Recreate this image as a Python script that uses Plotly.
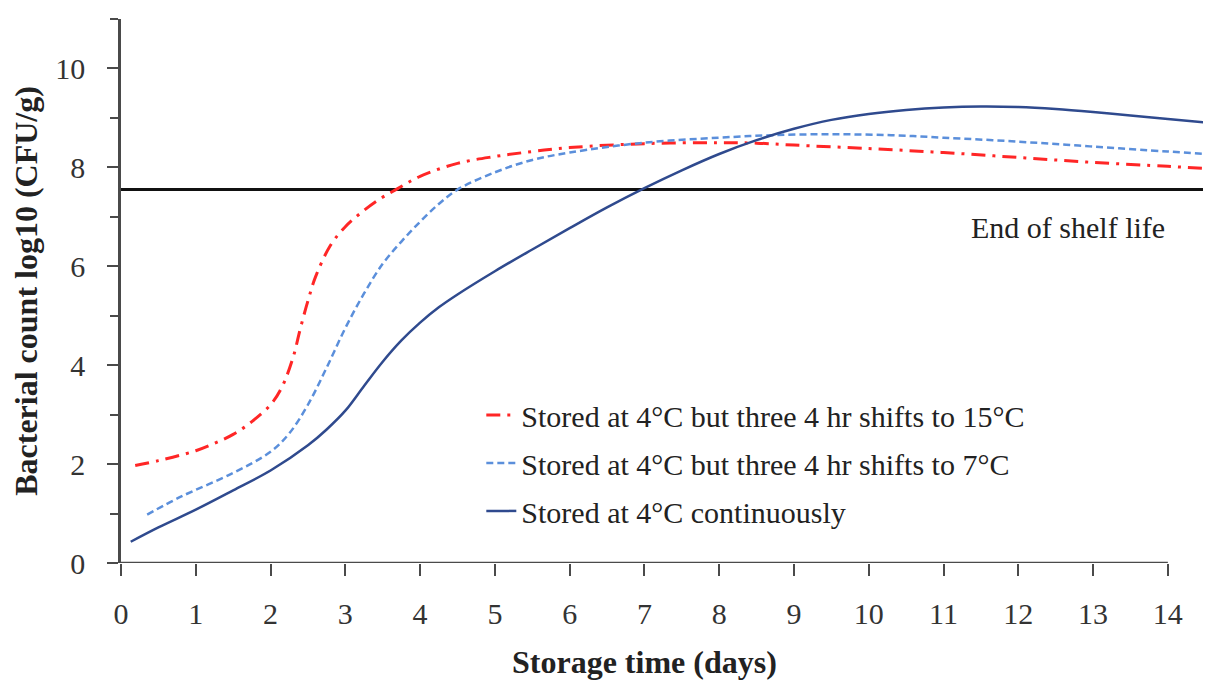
import plotly.graph_objects as go

# ---- data ----
red_x = [0.19, 0.5, 1.0, 1.25, 1.5, 1.75, 2.0, 2.15, 2.3, 2.4, 2.5, 2.6, 2.8, 3.0, 3.2, 3.45, 3.7, 4.0, 4.5, 5.0, 5.5, 6.0, 7.0, 8.0, 8.5, 9.0, 10.0, 11.0, 12.0, 13.0, 14.0, 14.5]
red_y = [1.97, 2.07, 2.27, 2.42, 2.6, 2.86, 3.2, 3.55, 4.15, 4.75, 5.3, 5.78, 6.42, 6.8, 7.07, 7.35, 7.57, 7.82, 8.08, 8.22, 8.32, 8.4, 8.48, 8.5, 8.49, 8.45, 8.38, 8.3, 8.2, 8.1, 8.02, 7.98]

blue_x = [0.35, 0.8, 1.5, 2.0, 2.25, 2.5, 2.75, 3.0, 3.25, 3.5, 3.75, 4.0, 4.25, 4.5, 5.0, 5.5, 6.0, 7.0, 8.0, 8.7, 9.5, 10.3, 11.0, 12.0, 13.0, 14.0, 14.5]
blue_y = [0.98, 1.34, 1.82, 2.25, 2.62, 3.2, 3.95, 4.75, 5.45, 6.05, 6.5, 6.9, 7.26, 7.55, 7.9, 8.15, 8.3, 8.5, 8.6, 8.65, 8.67, 8.65, 8.6, 8.52, 8.42, 8.32, 8.27]

solid_x = [0.13, 0.5, 1.0, 1.5, 2.0, 2.5, 2.75, 3.0, 3.25, 3.5, 3.75, 4.0, 4.25, 4.5, 5.0, 5.5, 6.0, 6.5, 7.0, 7.5, 8.0, 8.5, 9.0, 9.5, 10.0, 10.5, 11.0, 11.5, 12.0, 12.5, 13.0, 13.5, 14.0, 14.5]
solid_y = [0.43, 0.72, 1.08, 1.47, 1.87, 2.38, 2.7, 3.08, 3.58, 4.07, 4.5, 4.86, 5.17, 5.43, 5.9, 6.34, 6.77, 7.19, 7.58, 7.94, 8.27, 8.55, 8.78, 8.96, 9.08, 9.16, 9.21, 9.23, 9.22, 9.18, 9.12, 9.05, 8.98, 8.91]

shelf_life = 7.55
shelf_x = [0, 14.5]

names = [
    "Stored at 4°C but three 4 hr shifts to 15°C",
    "Stored at 4°C but three 4 hr shifts to 7°C",
    "Stored at 4°C continuously",
]
x_ticks = list(range(0, 15))
y_ticks = list(range(0, 11, 2))

FONT = "Liberation Serif"

fig = go.Figure()

fig.add_trace(go.Scatter(
    x=shelf_x, y=[shelf_life] * len(shelf_x), mode="lines",
    line=dict(color="#111111", width=3), showlegend=False, hoverinfo="skip"))

fig.add_trace(go.Scatter(
    x=red_x, y=red_y, mode="lines", name=names[0], legendgroup="a",
    line=dict(color="#FF2626", width=3, dash="14px,7px,3px,7px", shape="spline", smoothing=1.0)))
fig.add_trace(go.Scatter(
    x=blue_x, y=blue_y, mode="lines", name=names[1], legendgroup="b",
    line=dict(color="#5B8FDB", width=2.5, dash="7px,4px", shape="spline", smoothing=1.0)))
fig.add_trace(go.Scatter(
    x=solid_x, y=solid_y, mode="lines", name=names[2], legendgroup="c",
    line=dict(color="#2F4A8E", width=2.5, shape="spline", smoothing=1.0)))

axis_color = "#4a4a4a"

fig.update_xaxes(
    range=[0, 14.47], tickvals=x_ticks, ticktext=[str(v) for v in x_ticks],
    showline=False, showgrid=False, zeroline=False,
    ticks="outside", ticklen=12, tickwidth=2, tickcolor=axis_color,
    ticklabelstandoff=12,
    tickfont=dict(family=FONT, size=30, color="#333333"))

fig.update_yaxes(
    range=[0, 11], tickvals=y_ticks, ticktext=[str(v) for v in y_ticks],
    showline=True, linecolor=axis_color, linewidth=2.5,
    showgrid=False, zeroline=False,
    ticks="outside", ticklen=11, tickwidth=2, tickcolor=axis_color,
    minor=dict(tickvals=[1, 3, 5, 7, 9, 11], ticks="outside", ticklen=8, tickwidth=2, tickcolor=axis_color),
    ticklabelstandoff=16,
    tickfont=dict(family=FONT, size=30, color="#333333"))

# x axis line spans 0..14 only
fig.add_shape(type="line", xref="x", yref="y", x0=0, x1=14, y0=0, y1=0,
              line=dict(color=axis_color, width=2.5))

fig.add_annotation(xref="x", yref="paper", x=7, y=-0.182, yanchor="middle",
                   text="<b>Storage time (days)</b>", showarrow=False,
                   font=dict(family=FONT, size=32, color="#222222"))
fig.add_annotation(xref="paper", yref="paper", x=-0.088, y=0.5, textangle=-90,
                   xanchor="center", yanchor="middle",
                   text="<b>Bacterial count log10 (CFU/g)</b>", showarrow=False,
                   font=dict(family=FONT, size=32, color="#222222"))
fig.add_annotation(xref="x", yref="y", x=12.66, y=6.78,
                   text="End of shelf life", showarrow=False,
                   font=dict(family=FONT, size=30, color="#222222"))

fig.update_layout(
    width=1205, height=682,
    margin=dict(l=121, r=2, t=19, b=119),
    paper_bgcolor="white", plot_bgcolor="white",
    font=dict(family=FONT, color="#222222"),
    legend=dict(x=0.333, y=0.32, xanchor="left", yanchor="top",
                bgcolor="rgba(0,0,0,0)", tracegroupgap=6,
                font=dict(family=FONT, size=30, color="#222222")),
)

fig.write_html("out.html")
